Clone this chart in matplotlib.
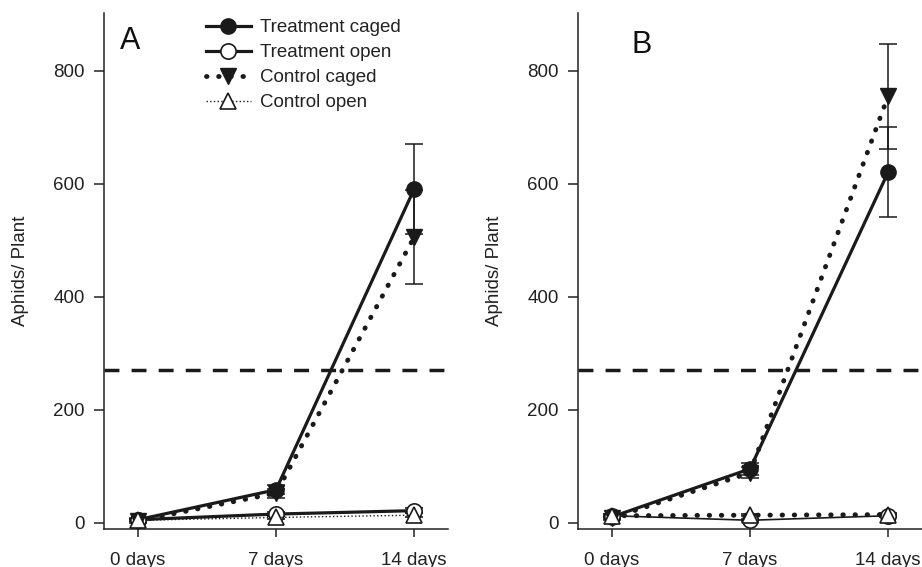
import matplotlib.pyplot as plt
from matplotlib.lines import Line2D

plt.rcParams['font.family'] = ['Liberation Sans', 'DejaVu Sans']

# ---------------- data ----------------
days = [0, 7, 14]
day_labels = ['0 days', '7 days', '14 days']
threshold = 270

# panel A
a_treat_caged = [5, 58, 590]
a_treat_caged_se = [3, 8, 80]
a_treat_open = [5, 15, 21]
a_treat_open_se = [2, 3, 4]
a_ctrl_caged = [3, 52, 505]
a_ctrl_caged_se = [3, 8, 83]
a_ctrl_open = [4, 9, 13]
a_ctrl_open_se = [2, 2, 3]

# panel B
b_treat_caged = [10, 95, 620]
b_treat_caged_se = [4, 10, 80]
b_treat_open = [12, 4, 12]
b_treat_open_se = [3, 2, 3]
b_ctrl_caged = [8, 88, 755]
b_ctrl_caged_se = [3, 10, 93]
b_ctrl_open = [12, 13, 14]
b_ctrl_open_se = [3, 2, 3]

W, H = 922, 567
fig = plt.figure(figsize=(W / 100, H / 100), dpi=100)

big_dots = (0, (0.1, 2.4))
styles = {
    'tc': dict(color='#1a1a1a', lw=2.3, ls='-', marker='o', ms=11, mfc='#1a1a1a', mec='#1a1a1a'),
    'to': dict(color='#1a1a1a', lw=2.3, ls='-', marker='o', ms=11, mfc='white', mec='#1a1a1a', mew=1.2),
    'cc': dict(color='#1a1a1a', lw=3.5, ls=big_dots, dash_capstyle='round', marker='v', ms=11,
               mfc='#1a1a1a', mec='#1a1a1a'),
    'co': dict(color='#1a1a1a', lw=1.0, ls=':', marker='^', ms=11, mfc='white', mec='#1a1a1a', mew=1.2),
}


def panel(left, letter, letter_x, letter_y, series, open_styles):
    ax = fig.add_axes([left / W, 1 - 529.3 / H, 344 / W, 516.3 / H])
    for key, y, se in series:
        st = dict(styles[key])
        if key in open_styles:
            st.update(open_styles[key])
        ax.errorbar(days, y, yerr=se, ecolor='#1a1a1a', elinewidth=1.1, capsize=6.5,
                    capthick=1.1, zorder=3, **st)
    ax.axhline(threshold, color='#1a1a1a', lw=2.5, ls=(0, (4.3, 3.5)), zorder=2)
    ax.set_xlim(-1.72, 15.72)
    ax.set_ylim(-12, 902)
    ax.set_xticks(days)
    ax.set_xticklabels(day_labels)
    ax.set_yticks([0, 200, 400, 600, 800])
    ax.spines['top'].set_visible(False)
    ax.spines['right'].set_visible(False)
    for s in ('left', 'bottom'):
        ax.spines[s].set_linewidth(1.1)
        ax.spines[s].set_color('#222222')
    ax.tick_params(axis='y', length=7, width=1.1, pad=7, labelsize=13.5, colors='#222222')
    ax.tick_params(axis='x', length=6, width=1.1, pad=10, labelsize=13.5, colors='#222222')
    ax.set_ylabel('Aphids/ Plant', fontsize=13.5, color='#222222')
    ax.yaxis.set_label_coords(-(104 - 29) / 344, 0.5)
    ax.text(letter_x, letter_y, letter, transform=ax.transAxes, fontsize=22,
            va='baseline', ha='left', color='#111111')
    return ax


axA = panel(104, 'A', 0.046, 0.931,
            [('tc', a_treat_caged, a_treat_caged_se),
             ('to', a_treat_open, a_treat_open_se),
             ('cc', a_ctrl_caged, a_ctrl_caged_se),
             ('co', a_ctrl_open, a_ctrl_open_se)], {})

axB = panel(578, 'B', 0.156, 0.922,
            [('tc', b_treat_caged, b_treat_caged_se),
             ('to', b_treat_open, b_treat_open_se),
             ('cc', b_ctrl_caged, b_ctrl_caged_se),
             ('co', b_ctrl_open, b_ctrl_open_se)],
            {'to': dict(lw=1.2), 'co': dict(lw=3.5, ls=big_dots, dash_capstyle='round')})

handles = [Line2D([], [], **styles[k]) for k in ('tc', 'to', 'cc', 'co')]
labels = ['Treatment caged', 'Treatment open', 'Control caged', 'Control open']
axA.legend(handles, labels, loc='upper left', bbox_to_anchor=(0.296, 0.988), frameon=False,
           fontsize=13.5, handlelength=2.4, handletextpad=0.5, labelspacing=0.42,
           borderpad=0, borderaxespad=0, labelcolor='#222222')

fig.savefig('out.png', dpi=100)
